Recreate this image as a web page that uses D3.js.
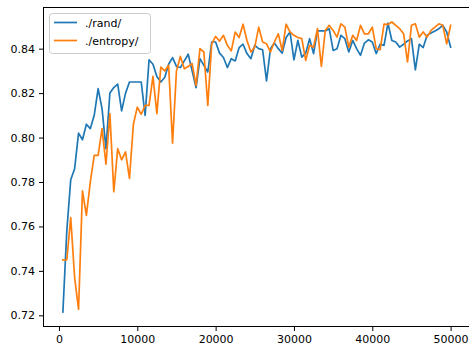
<!DOCTYPE html>
<html>
<head>
<meta charset="utf-8">
<script src="https://cdn.jsdelivr.net/npm/d3@7"></script>
<style>
  body { margin: 0; background: #fff; }
  .axis text { font-family: "DejaVu Sans", sans-serif; font-size: 11px; fill: #000; }
  .axis path, .axis line { stroke: #000; }
  .legend text { font-family: "DejaVu Sans", sans-serif; font-size: 11px; fill: #000; }
</style>
</head>
<body>
<div id="chart"></div>
<script>
const seriesNames = ["./rand/", "./entropy/"];
const seriesColors = ["#1f77b4", "#ff7f0e"];

// evaluation step, every 500 up to 50000
const steps = d3.range(500, 50001, 500);

const randValues = [
  0.7215, 0.758, 0.781, 0.786, 0.802, 0.799, 0.806, 0.804, 0.810, 0.822,
  0.813, 0.795, 0.820, 0.8225, 0.824, 0.812, 0.820, 0.825, 0.825, 0.825,
  0.825, 0.810, 0.835, 0.833, 0.8275, 0.825, 0.827, 0.833, 0.836, 0.832,
  0.8315, 0.8345, 0.8375, 0.830, 0.8225, 0.8355, 0.8325, 0.8295, 0.843, 0.843,
  0.838, 0.836, 0.8315, 0.8355, 0.8345, 0.8405, 0.842, 0.8378, 0.8355, 0.8415,
  0.840, 0.8395, 0.8255, 0.840, 0.8425, 0.840, 0.838, 0.845, 0.8475, 0.835,
  0.8437, 0.8362, 0.838, 0.8445, 0.8378, 0.848, 0.848, 0.848, 0.849, 0.8392,
  0.840, 0.846, 0.8445, 0.8385, 0.8437, 0.840, 0.837, 0.8425, 0.844, 0.843,
  0.8378, 0.842, 0.8415, 0.8515, 0.8437, 0.843, 0.8407, 0.842, 0.8435, 0.8445,
  0.8305, 0.842, 0.8405, 0.846, 0.847, 0.848, 0.849, 0.8505, 0.8475, 0.8407
];

const entropyValues = [
  0.745, 0.745, 0.764, 0.737, 0.7227, 0.776, 0.765, 0.780, 0.792, 0.792,
  0.804, 0.788, 0.8108, 0.7756, 0.795, 0.790, 0.7935, 0.7816, 0.806, 0.8137,
  0.8105, 0.8145, 0.8145, 0.8275, 0.8108, 0.8317, 0.830, 0.8325, 0.7975, 0.830,
  0.8365, 0.831, 0.832, 0.8333, 0.8235, 0.840, 0.8385, 0.8145, 0.8422, 0.8455,
  0.8434, 0.846, 0.8415, 0.839, 0.8475, 0.845, 0.851, 0.8437, 0.8385, 0.8407,
  0.8497, 0.843, 0.8422, 0.8385, 0.843, 0.8467, 0.8392, 0.851, 0.8475, 0.846,
  0.845, 0.8445, 0.8347, 0.8415, 0.8407, 0.849, 0.832, 0.8482, 0.8505, 0.8482,
  0.8452, 0.8512, 0.8497, 0.8407, 0.846, 0.8437, 0.8505, 0.8467, 0.8467, 0.8497,
  0.840, 0.8395, 0.851, 0.8509, 0.852, 0.8505, 0.849, 0.8467, 0.834, 0.8505,
  0.8512, 0.8452, 0.8475, 0.8452, 0.8482, 0.8497, 0.8512, 0.8505, 0.8422, 0.8505
];

const xTicks = [0, 10000, 20000, 30000, 40000, 50000];
const yTicks = [0.72, 0.74, 0.76, 0.78, 0.80, 0.82, 0.84];

let w = 469;
let h = 348;
let plotLeft = 43.5;
let plotRight = 470;
let plotTop = 7.5;
let plotBottom = 326.5;

const series = [randValues, entropyValues];

// matplotlib-like 5% margins
const xExt = d3.extent(steps);
const xPad = (xExt[1] - xExt[0]) * 0.05;
const allY = randValues.concat(entropyValues);
const yExt = d3.extent(allY);
const yPad = (yExt[1] - yExt[0]) * 0.05;

let x = d3.scaleLinear().domain([xExt[0] - xPad, xExt[1] + xPad]).range([plotLeft, plotRight]);
let y = d3.scaleLinear().domain([yExt[0] - yPad, yExt[1] + yPad]).range([plotBottom, plotTop]);

let svg = d3.select("#chart").append("svg").attr("width", w).attr("height", h);

svg.append("rect").attr("width", w).attr("height", h).attr("fill", "#fff");

let line = d3.line()
  .x(function (d, i) { return x(steps[i]); })
  .y(function (d) { return y(d); });

svg.append("g")
  .selectAll("path")
  .data(series)
  .enter()
  .append("path")
  .attr("d", line)
  .attr("fill", "none")
  .attr("stroke", function (d, i) { return seriesColors[i]; })
  .attr("stroke-width", 1.7)
  .attr("stroke-linejoin", "round")
  .attr("stroke-linecap", "square");

// frame
svg.append("rect")
  .attr("x", plotLeft)
  .attr("y", plotTop)
  .attr("width", plotRight - plotLeft)
  .attr("height", plotBottom - plotTop)
  .attr("fill", "none")
  .attr("stroke", "#000")
  .attr("stroke-width", 1);

let xAxis = d3.axisBottom(x).tickValues(xTicks).tickFormat(d3.format("d")).tickSize(4.5).tickPadding(4);
let yAxis = d3.axisLeft(y).tickValues(yTicks).tickFormat(d3.format(".2f")).tickSize(4.5).tickPadding(4);

svg.append("g")
  .attr("class", "axis")
  .attr("transform", `translate(0,${plotBottom})`)
  .call(xAxis)
  .call(function (g) { g.select(".domain").remove(); });

svg.append("g")
  .attr("class", "axis")
  .attr("transform", `translate(${plotLeft},0)`)
  .call(yAxis)
  .call(function (g) { g.select(".domain").remove(); });

// legend
let legend = svg.append("g").attr("class", "legend");

legend.append("rect")
  .attr("x", 49.5)
  .attr("y", 13.5)
  .attr("width", 101)
  .attr("height", 40)
  .attr("rx", 3)
  .attr("fill", "#fff")
  .attr("fill-opacity", 0.8)
  .attr("stroke", "#ccc");

let item = legend.selectAll("g.item")
  .data(seriesNames)
  .enter()
  .append("g")
  .attr("class", "item")
  .attr("transform", function (d, i) { return `translate(0,${22.5 + i * 18})`; });

item.append("line")
  .attr("x1", 54)
  .attr("x2", 77)
  .attr("stroke", function (d, i) { return seriesColors[i]; })
  .attr("stroke-width", 1.7);

item.append("text")
  .attr("x", 85)
  .attr("y", 4)
  .text(function (d) { return d; });
</script>
</body>
</html>
